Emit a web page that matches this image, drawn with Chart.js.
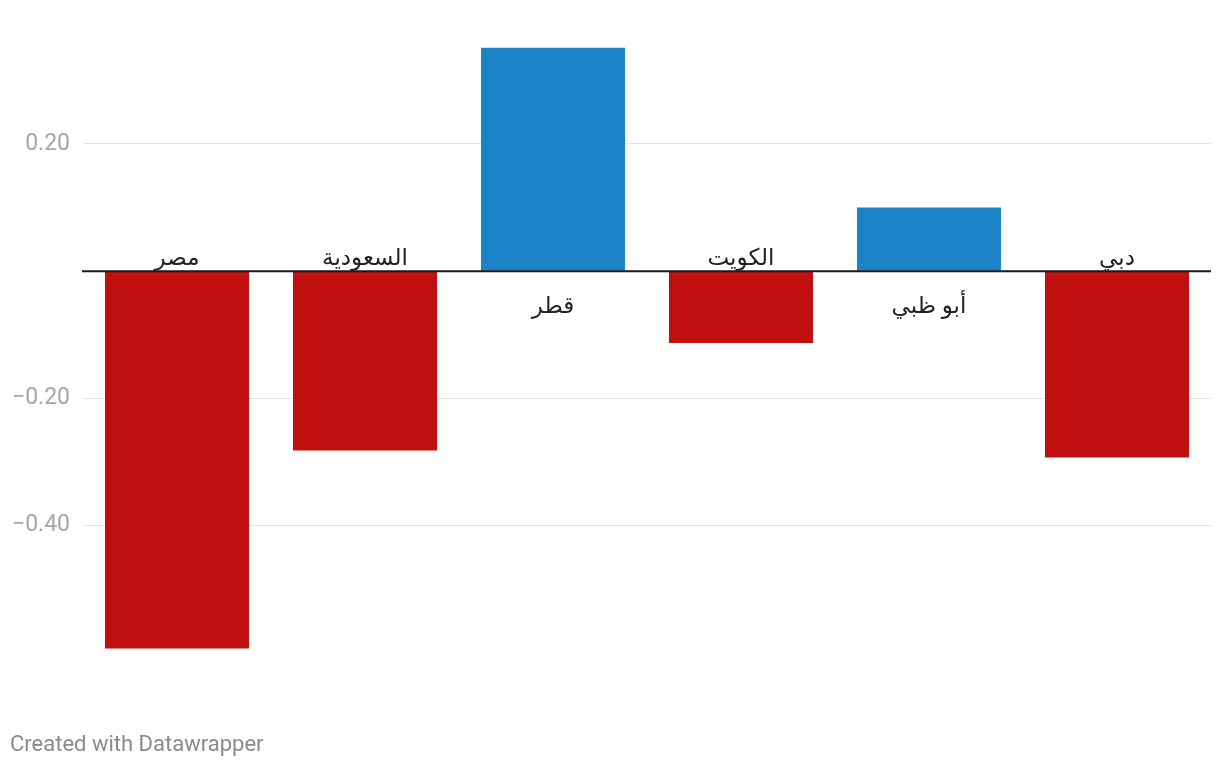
<!DOCTYPE html>
<html><head><meta charset="utf-8">
<script src="https://cdn.jsdelivr.net/npm/chart.js@4/dist/chart.umd.min.js"></script>
<style>html,body{margin:0;padding:0;background:#fff;}#wrap{width:1220px;height:768px;position:relative;}</style>
</head><body><div id="wrap"><canvas id="c" width="1220" height="768"></canvas></div>
<script>
const categories = ["مصر", "السعودية", "قطر", "الكويت", "أبو ظبي", "دبي"];
const values = [-0.593, -0.282, 0.351, -0.113, 0.1, -0.293];
const tickValues = [-0.4, -0.2, 0, 0.2];
const footerText = "Created with Datawrapper";

const RED = "#c00f0f", BLUE = "#1b83c7";

const labelPlugin = {
  id: "labels",
  afterDatasetsDraw(chart) {
    const ctx = chart.ctx, xs = chart.scales.x, ys = chart.scales.y;
    const y0 = ys.getPixelForValue(0);
    ctx.save();
    ctx.strokeStyle = "#1a1a1a"; ctx.lineWidth = 2;
    ctx.beginPath(); ctx.moveTo(chart.chartArea.left - 1, y0); ctx.lineTo(chart.chartArea.right, y0); ctx.stroke();
    ctx.font = "23px Roboto, 'Noto Sans', 'DejaVu Sans', sans-serif";
    ctx.fillStyle = "#222";
    ctx.textAlign = "center";
    ctx.textBaseline = "alphabetic";
    ctx.direction = "rtl";
    categories.forEach((c, i) => {
      const x = xs.getPixelForValue(i);
      const y = values[i] < 0 ? y0 - 6 : y0 + 42;
      ctx.fillText(c, x, y);
    });
    ctx.direction = "ltr";
    ctx.textAlign = "left";
    ctx.fillStyle = "#8a8a8a";
    ctx.font = "22px Roboto, sans-serif";
    ctx.textBaseline = "middle";
    ctx.fillText(footerText, 10, 745);
    ctx.restore();
  }
};

new Chart(document.getElementById("c"), {
  type: "bar",
  data: {
    labels: categories,
    datasets: [{
      data: values,
      backgroundColor: values.map(v => v < 0 ? RED : BLUE),
      borderWidth: 0,
      categoryPercentage: 1,
      barPercentage: 0.766
    }]
  },
  options: {
    responsive: false,
    animation: false,
    events: [],
    layout: { padding: { top: 42, bottom: 115, right: 9, left: 0 } },
    plugins: { legend: { display: false }, tooltip: { enabled: false } },
    scales: {
      x: { display: false },
      y: {
        min: -0.6, max: 0.36,
        afterBuildTicks(s) { s.ticks = tickValues.map(v => ({ value: v })); },
        afterFit(s) { s.width = 83; },
        border: { display: false },
        grid: { color: ctx => ctx.tick && ctx.tick.value === 0 ? "rgba(0,0,0,0)" : "#e3e3e3", lineWidth: 1, drawTicks: false },
        ticks: {
          padding: 13,
          color: "#a6a6a6",
          font: { family: "Roboto", size: 23 },
          callback: v => v === 0 ? "" : (v < 0 ? "\u2212" : "") + Math.abs(v).toFixed(2)
        }
      }
    }
  },
  plugins: [labelPlugin]
});
</script></body></html>
